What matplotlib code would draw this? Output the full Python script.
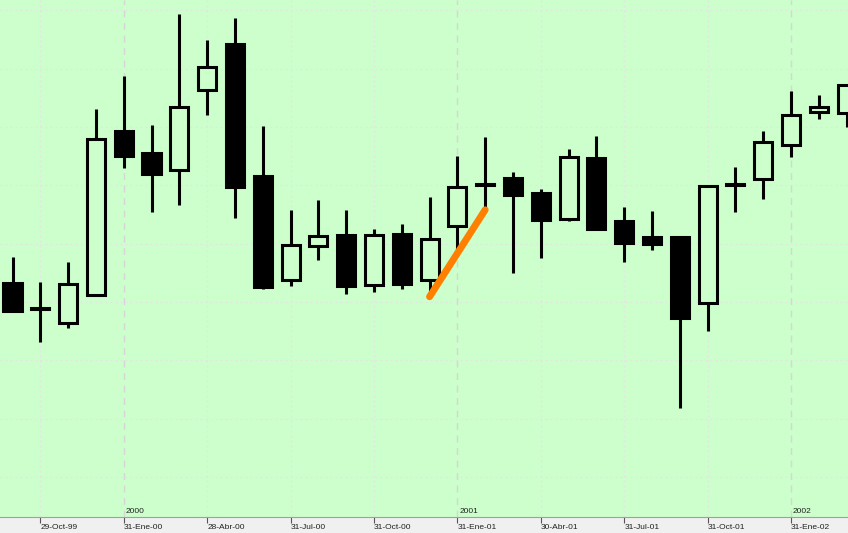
import matplotlib
matplotlib.use("Agg")
import matplotlib.pyplot as plt

plt.rcParams["font.family"] = ["Liberation Sans", "DejaVu Sans"]

# monthly candles Sep-99 .. Mar-02
opens  = [43.3, 38.9, 36.4, 41.2, 69.3, 65.5, 62.6, 76.3, 84.2, 61.6, 43.8, 49.6, 51.5, 42.9, 51.7, 43.8,
          53.0, 60.0, 61.3, 58.7, 54.2, 64.7, 53.9, 51.1, 51.1, 39.8, 60.1, 61.1, 66.9, 72.6, 72.4]
highs  = [47.7, 43.4, 46.9, 73.1, 78.7, 70.3, 89.4, 84.9, 88.7, 70.2, 55.8, 57.5, 55.8, 52.5, 53.4, 58.0,
          65.0, 68.3, 62.3, 59.4, 66.2, 68.5, 56.3, 55.6, 51.2, 60.0, 63.1, 69.3, 76.2, 75.5, 77.3]
lows   = [38.4, 33.1, 35.5, 41.1, 63.0, 55.4, 56.6, 72.1, 54.4, 42.2, 42.7, 47.2, 41.4, 41.7, 42.2, 41.7,
          48.9, 55.8, 45.0, 47.5, 53.9, 52.3, 46.9, 48.9, 21.8, 35.0, 55.4, 57.7, 64.9, 71.4, 70.0]
closes = [38.5, 38.8, 43.1, 67.9, 65.0, 61.9, 73.4, 80.3, 59.7, 42.6, 49.8, 51.3, 42.7, 51.5, 43.1, 50.8,
          59.7, 60.1, 58.3, 54.1, 64.9, 52.5, 50.1, 49.9, 37.3, 59.9, 60.2, 67.4, 72.1, 73.4, 77.2]

# trend line drawn on the chart (candle index, price)
trend_x = [15, 17]
trend_y = [40.9, 55.8]

tick_pos = [1, 4, 7, 10, 13, 16, 19, 22, 25, 28]
tick_labels = ["29-Oct-99", "31-Ene-00", "28-Abr-00", "31-Jul-00", "31-Oct-00",
               "31-Ene-01", "30-Abr-01", "31-Jul-01", "31-Oct-01", "31-Ene-02"]
year_pos = [4, 16, 28]
year_labels = ["2000", "2001", "2002"]

bg = "#ccffcc"

fig = plt.figure(figsize=(8.48, 5.33), dpi=100)
fig.patch.set_facecolor("#f0f0f0")
ax = fig.add_axes([0, 16 / 533, 1, 517 / 533])
ax.set_facecolor(bg)
ax.set_xlim(-0.45, 30.05)
ax.set_ylim(3.14, 91.77)

# grid
for v in range(10, 100, 10):
    ax.axhline(v, color="#e4e4e4", lw=0.9, ls=(0, (1.5, 2.5)), zorder=0)
for p in tick_pos:
    if p in year_pos:
        ax.axvline(p, color="#d6d6d6", lw=1.0, ls=(0, (5, 4)), zorder=0)
    else:
        ax.axvline(p, color="#e4e4e4", lw=0.9, ls=(0, (1.5, 2.5)), zorder=0)

# candles
n = len(opens)
xs = list(range(n))
ax.vlines(xs, lows, highs, color="black", lw=2.2, zorder=2)
for i in xs:
    o, c = opens[i], closes[i]
    h = c - o
    if abs(h) < 0.15:
        h = 0.15 if h >= 0 else -0.15
    face = "black" if c < o else bg
    ax.bar(i, h, bottom=o, width=0.65, facecolor=face, edgecolor="black",
           linewidth=2.2, zorder=3)

ax.plot(trend_x, trend_y, color="#ff8000", lw=5, solid_capstyle="round", zorder=4)

# axis styling
for s in ["top", "left", "right"]:
    ax.spines[s].set_visible(False)
ax.spines["bottom"].set_color("#a0a0a0")
ax.spines["bottom"].set_linewidth(0.8)
ax.set_yticks([])
ax.set_xticks(tick_pos)
ax.set_xticklabels(tick_labels, fontsize=6, color="#222222", ha="left")
ax.tick_params(axis="x", which="major", direction="out", length=4, width=0.8,
               color="#555555", pad=1)
ax.set_xticks(year_pos, minor=True)
ax.tick_params(axis="x", which="minor", direction="in", length=7, width=0.8,
               color="#555555")
for p, t in zip(year_pos, year_labels):
    ax.annotate(t, xy=(p, 0), xycoords=("data", "axes fraction"),
                xytext=(1.5, 1.5), textcoords="offset points",
                fontsize=6, color="#222222", ha="left", va="bottom")

fig.savefig("out.png", dpi=100, facecolor=fig.get_facecolor())
